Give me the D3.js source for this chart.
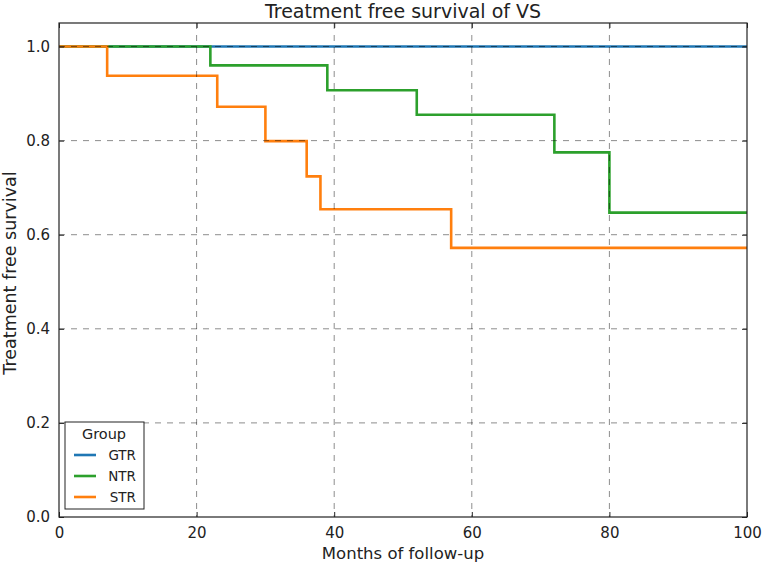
<!DOCTYPE html>
<html>
<head>
<meta charset="utf-8">
<script src="https://cdn.jsdelivr.net/npm/d3@7"></script>
<style>
  body { margin: 0; background: #fff; }
  text { font-family: "DejaVu Sans", sans-serif; fill: #222; }
</style>
</head>
<body>
<svg id="drawing_region"></svg>
<script>
// step curves: times where the survival changes and the value after each drop
const groups = ['GTR', 'NTR', 'STR'];
const colors = ['#1f77b4', '#2ca02c', '#ff7f0e'];

const gtrTimes = [0, 100];
const gtrValues = [1.0, 1.0];

const ntrTimes = [0, 22, 39, 52, 72, 80, 100];
const ntrValues = [1.0, 0.96, 0.907, 0.855, 0.775, 0.647, 0.647];

const strTimes = [0, 7, 23, 30, 36, 38, 57, 100];
const strValues = [1.0, 0.938, 0.872, 0.799, 0.724, 0.654, 0.572, 0.572];

const xTicks = [0, 20, 40, 60, 80, 100];
const yTicks = [0.0, 0.2, 0.4, 0.6, 0.8, 1.0];

const series = [
    { name: groups[0], times: gtrTimes, values: gtrValues, color: colors[0] },
    { name: groups[1], times: ntrTimes, values: ntrValues, color: colors[1] },
    { name: groups[2], times: strTimes, values: strValues, color: colors[2] },
];

const width = 762, height = 566;
const margin = { top: 23, right: 15, bottom: 49, left: 59 };
const inner_width = width - margin.left - margin.right;
const inner_height = height - margin.top - margin.bottom;

const svg = d3.select('#drawing_region')
    .attr('width', width)
    .attr('height', height);

const chart = svg.append('g')
    .attr('transform', `translate(${margin.left}, ${margin.top})`);

const xscale = d3.scaleLinear().domain([0, 100]).range([0, inner_width]);
const yscale = d3.scaleLinear().domain([0, 1.05]).range([inner_height, 0]);

const line = d3.line()
    .x(d => xscale(d[0]))
    .y(d => yscale(d[1]))
    .curve(d3.curveStepAfter);

// survival lines
series.forEach(s => {
    chart.append('path')
        .datum(s.times.map((t, i) => [t, s.values[i]]))
        .attr('d', line)
        .attr('fill', 'none')
        .attr('stroke', s.color)
        .attr('stroke-width', 2.6);
});

// grid on top of the lines
const grid = chart.append('g')
    .attr('stroke', '#000')
    .attr('stroke-opacity', 0.45)
    .attr('stroke-width', 1)
    .attr('stroke-dasharray', '6,6');

grid.selectAll('.vgrid')
    .data(xTicks.slice(1, -1))
    .join('line')
    .attr('x1', d => xscale(d)).attr('x2', d => xscale(d))
    .attr('y1', 0).attr('y2', inner_height);

grid.selectAll('.hgrid')
    .data(yTicks.slice(1))
    .join('line')
    .attr('x1', 0).attr('x2', inner_width)
    .attr('y1', d => yscale(d)).attr('y2', d => yscale(d));

// axes with inward ticks on all four sides
const xaxis = d3.axisBottom(xscale).tickValues(xTicks).tickSize(-5).tickPadding(10).tickSizeOuter(0);
const xaxisTop = d3.axisTop(xscale).tickValues(xTicks).tickSize(-5).tickFormat('').tickSizeOuter(0);
const yaxis = d3.axisLeft(yscale).tickValues(yTicks).tickSize(-5).tickPadding(9)
    .tickFormat(d3.format('.1f')).tickSizeOuter(0);
const yaxisRight = d3.axisRight(yscale).tickValues(yTicks).tickSize(-5).tickFormat('').tickSizeOuter(0);

const xg = chart.append('g').attr('transform', `translate(0, ${inner_height})`).call(xaxis);
const xgt = chart.append('g').call(xaxisTop);
const yg = chart.append('g').call(yaxis);
const ygr = chart.append('g').attr('transform', `translate(${inner_width}, 0)`).call(yaxisRight);

[xg, xgt, yg, ygr].forEach(g => {
    g.select('.domain').remove();
    g.selectAll('line').attr('stroke', '#222').attr('stroke-width', 1);
    g.selectAll('text').attr('font-size', 15).attr('fill', '#222');
});

// frame
chart.append('rect')
    .attr('width', inner_width)
    .attr('height', inner_height)
    .attr('fill', 'none')
    .attr('stroke', '#222')
    .attr('stroke-width', 1.2);

// title and labels
svg.append('text')
    .attr('x', margin.left + inner_width / 2)
    .attr('y', 18)
    .attr('text-anchor', 'middle')
    .attr('font-size', 19)
    .text('Treatment free survival of VS');

svg.append('text')
    .attr('x', margin.left + inner_width / 2)
    .attr('y', 559)
    .attr('text-anchor', 'middle')
    .attr('font-size', 16.5)
    .text('Months of follow-up');

svg.append('text')
    .attr('transform', `translate(16, ${273}) rotate(-90)`)
    .attr('text-anchor', 'middle')
    .attr('font-size', 17.5)
    .text('Treatment free survival');

// legend
const legend = chart.append('g')
    .attr('transform', `translate(${65 - margin.left}, ${422 - margin.top})`);

legend.append('rect')
    .attr('width', 79)
    .attr('height', 87)
    .attr('fill', '#fff')
    .attr('stroke', '#222')
    .attr('stroke-width', 1);

legend.append('text')
    .attr('x', 39)
    .attr('y', 17)
    .attr('text-anchor', 'middle')
    .attr('font-size', 14.5)
    .text('Group');

series.forEach((s, i) => {
    const y = 33 + i * 21;
    legend.append('line')
        .attr('x1', 9).attr('x2', 31)
        .attr('y1', y).attr('y2', y)
        .attr('stroke', s.color)
        .attr('stroke-width', 2.6);
    legend.append('text')
        .attr('x', 71)
        .attr('y', y + 5)
        .attr('text-anchor', 'end')
        .attr('font-size', 13.5)
        .text(s.name);
});
</script>
</body>
</html>
